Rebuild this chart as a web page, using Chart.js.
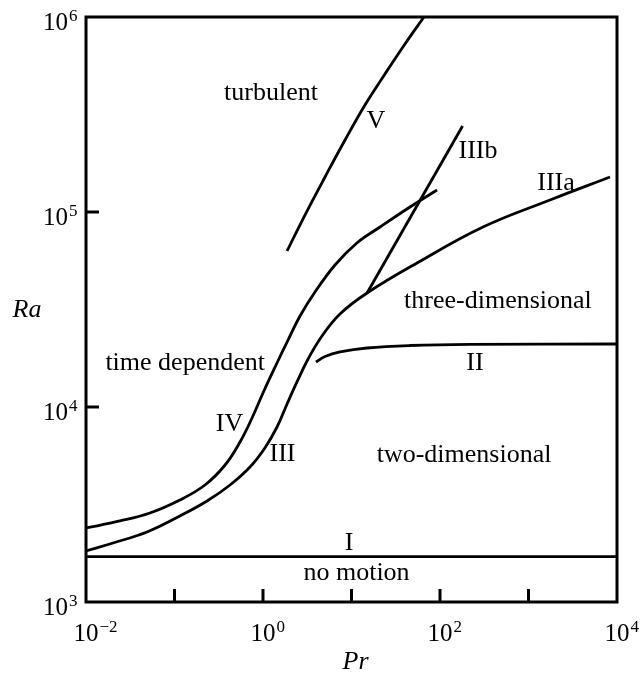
<!DOCTYPE html>
<html>
<head>
<meta charset="utf-8">
<script src="https://cdn.jsdelivr.net/npm/chart.js@4/dist/chart.umd.min.js"></script>
<style>
  body { margin: 0; background: #fff; }
  canvas { display: block; }
</style>
</head>
<body>
<canvas id="myChart" width="641" height="673"></canvas>
<script>
// curve data (Pr, Ra)
const curveI_pr = [0.01, 10000]
const curveI_ra = [1708, 1708]

const curveII_pr = [3.97, 5.02, 7.41, 15, 45.8, 218, 10000]
const curveII_ra = [17010, 18160, 19150, 20070, 20670, 20970, 21040]

const curveIII_pr = [0.01, 0.0202, 0.0489, 0.115, 0.233, 0.424, 0.713, 1.05, 1.44, 1.87, 2.42, 3.23, 4.64, 7.41, 15]
const curveIII_ra = [1826, 2007, 2286, 2761, 3296, 3981, 4924, 6163, 7897, 10360, 13440, 17630, 23130, 29990, 38420]

const curveIIIa_pr = [15, 55, 306, 1750, 8340]
const curveIIIa_ra = [38420, 54760, 83750, 115200, 151200]

const curveIIIb_pr = [15, 180]
const curveIIIb_ra = [38420, 276000]

const curveIV_pr = [0.01, 0.0242, 0.0528, 0.115, 0.221, 0.373, 0.55, 0.752, 1.0, 1.37, 1.92, 2.62, 3.87, 6.51, 11.5, 21, 45.8, 92.5]
const curveIV_ra = [2396, 2603, 2860, 3334, 3981, 5041, 6613, 8781, 11800, 16040, 22060, 29290, 38880, 53480, 69340, 83750, 106100, 129700]

const curveV_pr = [1.87, 2.98, 5.02, 8.45, 14.2, 23.9, 40.2, 65.9]
const curveV_ra = [63100, 96500, 151200, 233900, 353800, 510300, 727000, 1000000]

// region / curve labels and where they sit (Pr, Ra of the text baseline centre)
const labelText = ['turbulent', 'V', 'IIIb', 'IIIa', 'three-dimensional', 'time dependent', 'II',
  'IV', 'III', 'two-dimensional', 'I', 'no motion']
const labelPr = [1.23, 18.9, 269, 2046, 452, 0.132, 248, 0.418, 1.66, 187, 9.37, 11.4]
const labelRa = [375000, 270000, 189000, 130000, 32200, 15500, 15500, 7530, 5285, 5224, 1849, 1297]

// tick exponents
const xLabelExp = [-2, 0, 2, 4]
const xTickExp = [-1, 0, 1, 2, 3]
const yLabelExp = [3, 4, 5, 6]
const yTickExp = [4, 5]

const SERIF = '"Liberation Serif", "Times New Roman", serif'

function pts(xs, ys) {
  return xs.map((x, i) => ({ x: x, y: ys[i] }))
}

function line(xs, ys, smooth) {
  return {
    data: pts(xs, ys),
    showLine: true,
    pointRadius: 0,
    borderColor: '#000',
    borderWidth: 2.8,
    fill: false,
    tension: smooth ? 0.4 : 0
  }
}

function powerLabel(ctx, exp, x, y, align) {
  const base = '10'
  const sup = exp < 0 ? '\u2212' + Math.abs(exp) : String(exp)
  ctx.font = '25px ' + SERIF
  const wb = ctx.measureText(base).width
  // align 'center' -> "10" centred on x; 'right' -> "10" ends at x
  const left = align === 'center' ? x - wb / 2 : x - wb
  ctx.textAlign = 'left'
  ctx.textBaseline = 'alphabetic'
  ctx.fillText(base, left, y)
  ctx.font = '17px ' + SERIF
  ctx.fillText(sup, left + wb + 1, y - 9)
}

const framePlugin = {
  id: 'frame',
  afterDraw(chart) {
    const ctx = chart.ctx
    const a = chart.chartArea
    const xs = chart.scales.x
    const ys = chart.scales.y
    ctx.save()
    ctx.strokeStyle = '#000'
    ctx.fillStyle = '#000'
    ctx.lineWidth = 3
    ctx.strokeRect(a.left, a.top, a.right - a.left, a.bottom - a.top)

    xTickExp.forEach(e => {
      const px = xs.getPixelForValue(Math.pow(10, e))
      ctx.beginPath()
      ctx.moveTo(px, a.bottom)
      ctx.lineTo(px, a.bottom - 13)
      ctx.stroke()
    })
    yTickExp.forEach(e => {
      const py = ys.getPixelForValue(Math.pow(10, e))
      ctx.beginPath()
      ctx.moveTo(a.left, py)
      ctx.lineTo(a.left + 13, py)
      ctx.stroke()
    })

    xLabelExp.forEach(e => {
      powerLabel(ctx, e, xs.getPixelForValue(Math.pow(10, e)), a.bottom + 39, 'center')
    })
    yLabelExp.forEach(e => {
      powerLabel(ctx, e, 68, ys.getPixelForValue(Math.pow(10, e)) + 13, 'right')
    })

    ctx.font = '26px ' + SERIF
    ctx.textAlign = 'center'
    ctx.textBaseline = 'alphabetic'
    labelText.forEach((t, i) => {
      ctx.fillText(t, xs.getPixelForValue(labelPr[i]), ys.getPixelForValue(labelRa[i]))
    })

    // axis titles
    ctx.font = 'italic 26px ' + SERIF
    ctx.fillText('Pr', (a.left + a.right) / 2 + 4, a.bottom + 67)
    ctx.fillText('Ra', 27, 317)
    ctx.restore()
  }
}

const ctx = document.getElementById('myChart')
const myChart = new Chart(ctx, {
  type: 'scatter',
  data: {
    datasets: [
      line(curveI_pr, curveI_ra, false),
      line(curveII_pr, curveII_ra, true),
      line(curveIII_pr.concat(curveIIIa_pr.slice(1)), curveIII_ra.concat(curveIIIa_ra.slice(1)), true),
      line(curveIIIb_pr, curveIIIb_ra, false),
      line(curveIV_pr, curveIV_ra, true),
      line(curveV_pr, curveV_ra, true)
    ]
  },
  options: {
    responsive: false,
    animation: false,
    devicePixelRatio: 1,
    layout: { padding: { left: 86, top: 17, right: 24, bottom: 71 } },
    plugins: { legend: { display: false }, tooltip: { enabled: false } },
    scales: {
      x: { type: 'logarithmic', min: 0.01, max: 10000, display: false },
      y: { type: 'logarithmic', min: 1000, max: 1000000, display: false }
    }
  },
  plugins: [framePlugin]
})
</script>
</body>
</html>
